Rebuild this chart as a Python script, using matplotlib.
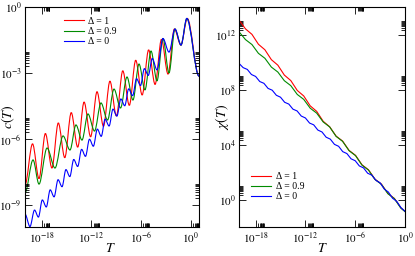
import numpy as np
import matplotlib
matplotlib.use("Agg")
import matplotlib.pyplot as plt
from matplotlib.path import Path
from matplotlib.patches import PathPatch
from matplotlib.ticker import FixedLocator, NullFormatter

plt.rcParams['font.family'] = ['Liberation Serif', 'DejaVu Serif']
plt.rcParams['mathtext.fontset'] = 'stix'

labels = ['Δ = 1', 'Δ = 0.9', 'Δ = 0']
colors = ['#ff0000', '#008b00', '#0000ff']

# left panel: specific heat, log10 T / log10 c at the turning points of the wiggles
c_T_d1 = [-20.0, -19.09, -18.31, -17.54, -16.75, -15.98, -15.20, -14.42, -13.64, -12.87,
          -12.08, -11.31, -10.53, -9.75, -8.97, -8.20, -7.41, -6.64, -5.86, -5.08,
          -4.30, -3.53, -2.74, -1.97, -1.19, -0.41, 1.0]
c_d1 = [-8.09, -6.22, -7.80, -5.75, -7.32, -5.27, -6.85, -4.80, -6.37, -4.32,
        -5.90, -3.85, -5.42, -3.37, -4.95, -2.90, -4.47, -2.42, -4.00, -1.95,
        -3.52, -1.47, -3.05, -1.00, -1.73, -0.52, -3.14]

c_T_d09 = [-20.0, -19.03, -18.31, -17.34, -16.38, -15.41, -14.57, -13.85, -13.12, -12.40,
           -11.61, -10.83, -10.04, -9.26, -8.47, -7.69, -6.97, -6.24, -5.52, -4.79,
           -4.07, -3.35, -2.62, -1.90, -1.17, -0.47, 1.0]
c_d09 = [-8.45, -6.95, -8.05, -6.41, -7.32, -5.86, -6.50, -5.36, -6.05, -4.86,
         -5.64, -4.36, -5.14, -3.73, -4.59, -3.18, -4.23, -2.59, -3.77, -2.00,
         -3.36, -1.43, -3.00, -1.00, -1.73, -0.52, -3.14]

c_T_d0 = [-20.0, -19.40, -18.85, -18.38, -17.91, -17.43, -16.96, -16.49, -16.01, -15.53,
          -15.06, -14.59, -14.12, -13.64, -13.17, -12.70, -12.22, -11.75, -11.27, -10.80,
          -10.33, -9.85, -9.38, -8.91, -8.43, -7.96, -7.49, -7.01, -6.54, -6.06,
          -5.59, -5.12, -4.64, -4.07, -3.35, -2.62, -1.90, -1.17, -0.47, 1.0]
c_d0 = [-9.41, -9.98, -9.23, -9.55, -8.77, -9.09, -8.31, -8.63, -7.85, -8.17,
        -7.39, -7.71, -6.93, -7.25, -6.47, -6.79, -6.01, -6.33, -5.55, -5.88,
        -5.10, -5.41, -4.64, -4.96, -4.18, -4.49, -3.72, -4.03, -3.26, -3.57,
        -2.80, -3.11, -2.34, -2.86, -1.43, -2.05, -1.00, -1.73, -0.52, -3.14]

# right panel: susceptibility, log10 T / log10 chi
chi_T = [-20.0, -19.22, -18.44, -17.66, -16.88, -16.10, -15.32, -14.54, -13.76, -12.98,
         -12.20, -11.42, -10.64, -9.86, -9.08, -8.30, -7.52, -6.74, -5.96, -5.18,
         -4.40, -3.62, -2.84, -2.06, -1.28, -0.50, 0.0]
chi_d1 = [13.05, 12.41, 12.01, 11.29, 10.89, 10.17, 9.77, 9.05, 8.65, 7.93,
          7.53, 6.81, 6.41, 5.69, 5.29, 4.61, 4.25, 3.57, 3.21, 2.52,
          2.16, 1.48, 1.12, 0.44, 0.08, -0.61, -0.86]
chi_d09 = [12.20, 11.63, 11.27, 10.63, 10.27, 9.63, 9.27, 8.64, 8.28, 7.64,
           7.28, 6.64, 6.28, 5.64, 5.28, 4.59, 4.23, 3.55, 3.19, 2.50,
           2.14, 1.46, 1.10, 0.42, 0.06, -0.63, -0.88]
chi_T_d0 = [-20.0, -19.5, -19.0, -18.5, -18.0, -17.5, -17.0, -16.5, -16.0, -15.5,
            -15.0, -14.5, -14.0, -13.5, -13.0, -12.5, -12.0, -11.5, -11.0, -10.5,
            -10.0, -9.5, -9.0, -8.5, -8.0, -7.5, -7.0, -6.5, -6.0, -5.5,
            -5.0, -4.5, -4.0, -3.5, -3.0, -2.5, -2.0, -1.5, -1.0, -0.5, 0.0]
chi_d0 = [9.90, 9.59, 9.46, 9.09, 8.95, 8.58, 8.45, 8.08, 7.95, 7.58,
          7.44, 7.07, 6.94, 6.57, 6.44, 6.07, 5.93, 5.56, 5.43, 5.05,
          4.91, 4.53, 4.39, 4.01, 3.87, 3.48, 3.34, 2.96, 2.82, 2.44,
          2.30, 1.91, 1.77, 1.39, 1.21, 0.76, 0.54, 0.09, -0.13, -0.58, -0.86]

tick_exp_x = [-18, -12, -6, 0]
tick_exp_c = [0, -3, -6, -9]
tick_exp_chi = [12, 8, 4, 0]


def wave(lx, ly):
    # smooth curve through the turning points (flat at each extremum)
    verts = [(10 ** lx[0], 10 ** ly[0])]
    codes = [Path.MOVETO]
    for i in range(1, len(lx)):
        d = (lx[i] - lx[i - 1]) / 3.0
        verts += [(10 ** (lx[i - 1] + d), 10 ** ly[i - 1]),
                  (10 ** (lx[i] - d), 10 ** ly[i]),
                  (10 ** lx[i], 10 ** ly[i])]
        codes += [Path.CURVE4] * 3
    return Path(verts, codes)


def style(ax, xexp, yexp):
    ax.set_xscale('log')
    ax.set_yscale('log')
    ax.set_xticks([10.0 ** e for e in xexp])
    ax.set_xticklabels(['$10^{%d}$' % e for e in xexp])
    ax.set_yticks([10.0 ** e for e in yexp])
    ax.set_yticklabels(['$10^{%d}$' % e for e in yexp])
    ax.xaxis.set_minor_locator(FixedLocator([k * 10.0 ** e for e in xexp for k in range(2, 10)]))
    ax.yaxis.set_minor_locator(FixedLocator([k * 10.0 ** e for e in yexp for k in range(2, 10)]))
    ax.xaxis.set_minor_formatter(NullFormatter())
    ax.yaxis.set_minor_formatter(NullFormatter())
    ax.tick_params(which='both', direction='in', top=True, right=True, width=0.6, labelsize=8)
    ax.tick_params(which='major', length=5, pad=2.5)
    ax.tick_params(which='minor', length=3)
    for s in ax.spines.values():
        s.set_linewidth(0.8)


fig = plt.figure(figsize=(4.15, 2.56), dpi=100)
ax1 = fig.add_axes([25 / 415, 29 / 256, 174 / 415, 220 / 256])
ax2 = fig.add_axes([239 / 415, 29 / 256, 166 / 415, 220 / 256])

for lx, ly, col, lab in zip([c_T_d1, c_T_d09, c_T_d0], [c_d1, c_d09, c_d0], colors, labels):
    ax1.add_patch(PathPatch(wave(lx, ly), facecolor='none', edgecolor=col, lw=0.8))
    ax1.plot([], [], color=col, lw=0.8, label=lab)
style(ax1, tick_exp_x, tick_exp_c)
ax1.set_xlim(1e-20, 1e1)
ax1.set_ylim(1e-10, 1e0)
ax1.set_xlabel('$T$', fontsize=10, va='center')
ax1.xaxis.set_label_coords(0.49, -0.1)
ax1.set_ylabel('$c(T)$', fontsize=10, va='center')
ax1.yaxis.set_label_coords(-0.095, 0.5)
ax1.legend(loc='upper left', bbox_to_anchor=(0.225, 0.955), frameon=False, fontsize=7,
           handlelength=2.0, handletextpad=0.5, labelspacing=0.12, borderpad=0, borderaxespad=0)

for lx, ly, col, lab in zip([chi_T, chi_T, chi_T_d0], [chi_d1, chi_d09, chi_d0], colors, labels):
    ax2.plot(10.0 ** np.array(lx), 10.0 ** np.array(ly), color=col, lw=0.8, label=lab)
style(ax2, tick_exp_x, tick_exp_chi)
ax2.set_xlim(1e-20, 1e0)
ax2.set_ylim(1e-2, 1e14)
ax2.set_xlabel('$T$', fontsize=10, va='center')
ax2.xaxis.set_label_coords(0.5, -0.1)
ax2.set_ylabel(r'$\chi(T)$', fontsize=10, va='center')
ax2.yaxis.set_label_coords(-0.1, 0.5)
ax2.legend(loc='upper left', bbox_to_anchor=(0.075, 0.25), frameon=False, fontsize=7,
           handlelength=2.0, handletextpad=0.5, labelspacing=0.12, borderpad=0, borderaxespad=0)

fig.savefig('out.png', dpi=100)
